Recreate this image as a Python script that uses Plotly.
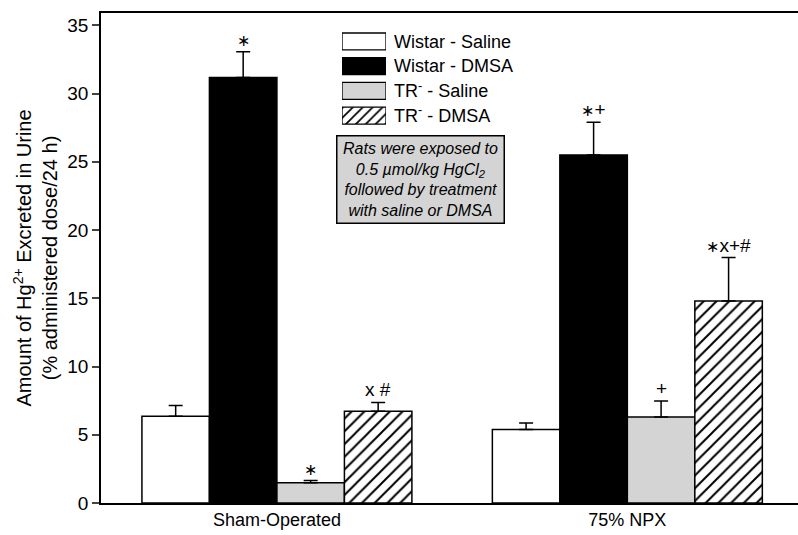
import numpy as np
import plotly.graph_objects as go

# ---------------- data ----------------
groups = ["Sham-Operated", "75% NPX"]
series = ["Wistar - Saline", "Wistar - DMSA", "TR<sup>-</sup> - Saline", "TR<sup>-</sup> - DMSA"]

wistar_saline = [6.35, 5.38]
wistar_dmsa = [31.17, 25.5]
tr_saline = [1.49, 6.3]
tr_dmsa = [6.72, 14.8]

wistar_saline_err = [0.8, 0.48]
wistar_dmsa_err = [1.9, 2.4]
tr_saline_err = [0.15, 1.17]
tr_dmsa_err = [0.65, 3.18]

wistar_saline_sig = ["", ""]
wistar_dmsa_sig = ["*", "*+"]
tr_saline_sig = ["*", "+"]
tr_dmsa_sig = ["x #", "*x+#"]

y_ticks = [0, 5, 10, 15, 20, 25, 30, 35]

means = [wistar_saline, wistar_dmsa, tr_saline, tr_dmsa]
errs = [wistar_saline_err, wistar_dmsa_err, tr_saline_err, tr_dmsa_err]
sigs = [wistar_saline_sig, wistar_dmsa_sig, tr_saline_sig, tr_dmsa_sig]

# ---------------- styles ----------------
FONT = "Liberation Sans, Arial, sans-serif"
fills = ["white", "black", "#d4d4d4", "white"]
patterns = ["", "", "", "/"]
bw = 0.1926


def style_sig(s):
    # centred asterisk glyph as in the original figure
    return s.replace("*", "<span style='font-family:DejaVu Sans;font-size:16px'>\u2217</span>")


fig = go.Figure()
gx = np.arange(len(groups))
for i, name in enumerate(series):
    xs = gx + (i - 1.5) * bw
    fig.add_trace(go.Bar(
        x=xs, y=means[i], width=bw, name=name, showlegend=False,
        marker=dict(color=fills[i], line=dict(color="black", width=1.5),
                    pattern=dict(shape=patterns[i], fgcolor="black", bgcolor="white",
                                 fgopacity=1, size=9, solidity=0.22)),
        error_y=dict(type="data", symmetric=False, array=errs[i],
                     arrayminus=[0] * len(errs[i]), color="black", thickness=1.5, width=7),
        hoverinfo="skip",
    ))
    for j in range(len(groups)):
        if sigs[i][j]:
            fig.add_annotation(x=xs[j], y=means[i][j] + errs[i][j], text=style_sig(sigs[i][j]),
                               showarrow=False, yanchor="bottom", yshift=0,
                               font=dict(family=FONT, size=19, color="black"))

# legend swatches on an auxiliary axis pair
for i, name in enumerate(series):
    fig.add_trace(go.Bar(
        x=[1], y=[i], orientation="h", width=0.68, xaxis="x2", yaxis="y2",
        showlegend=False, hoverinfo="skip",
        marker=dict(color=fills[i], line=dict(color="black", width=1.3),
                    pattern=dict(shape=patterns[i], fgcolor="black", bgcolor="white",
                                 fgopacity=1, size=7, solidity=0.24)),
    ))

fig.add_annotation(
    xref="paper", yref="paper", x=0.459, y=0.661, xanchor="center", yanchor="middle",
    text="<i>Rats were exposed to<br>0.5 \u00b5mol/kg HgCl<sub>2</sub><br>followed by treatment<br>with saline or DMSA</i>",
    showarrow=False, align="center", bgcolor="#d4d4d4", bordercolor="black",
    borderwidth=1.5, borderpad=3, width=160, height=80,
    font=dict(family=FONT, size=16, color="black"),
)

fig.update_layout(
    width=798, height=535,
    margin=dict(l=101, r=0, t=13, b=32),
    paper_bgcolor="white", plot_bgcolor="white",
    font=dict(family=FONT, size=17, color="black"),
    barmode="overlay",
    xaxis=dict(range=[-0.502, 1.487], tickvals=list(gx), ticktext=groups,
               showline=True, linecolor="black", linewidth=1.5, mirror=True,
               ticks="", showgrid=False, zeroline=False,
               tickfont=dict(size=18)),
    yaxis=dict(range=[0, 35.9], tickvals=y_ticks, showline=True, linecolor="black",
               linewidth=1.5, ticks="outside", ticklen=7, tickwidth=1.5,
               showgrid=False, zeroline=False, tickfont=dict(size=19),
               title=dict(text="Amount of Hg<sup>2+</sup> Excreted in Urine<br>(% administered dose/24 h)",
                          font=dict(size=20), standoff=4)),
    xaxis2=dict(domain=[0.3458, 0.4089], range=[0, 1], visible=False, anchor="y2"),
    yaxis2=dict(domain=[0.7653, 0.9673], range=[3.5, -0.5], anchor="x2", side="right",
                tickvals=list(range(len(series))), ticktext=series, showline=False,
                showgrid=False, zeroline=False, ticks="", ticklabelstandoff=7,
                tickfont=dict(size=18)),
)

fig.write_html("out.html")
